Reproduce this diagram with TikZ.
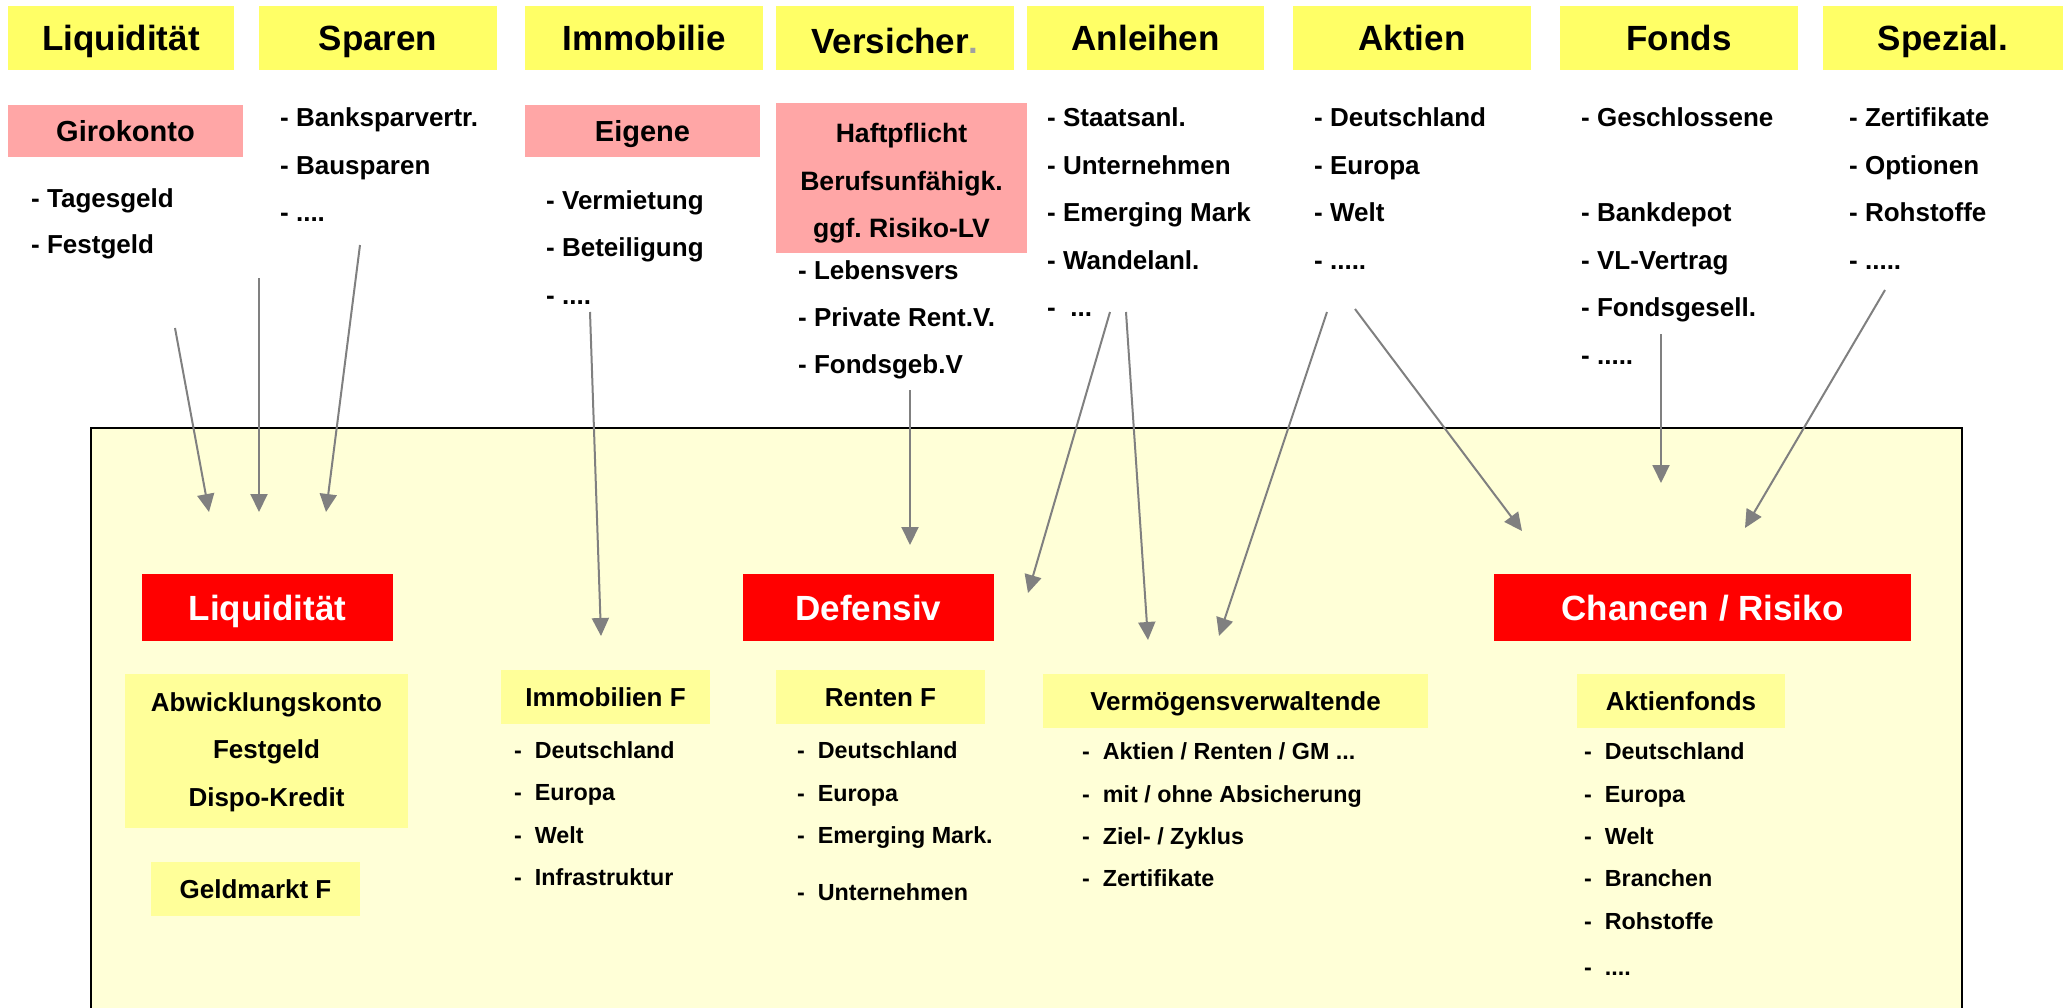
\documentclass[tikz,border=0pt]{standalone}
\usepackage{fontspec}
\setmainfont{Liberation Sans}
\frenchspacing
\usetikzlibrary{arrows.meta}
\definecolor{kopfgelb}{HTML}{FFFF66}
\definecolor{rosafarbe}{HTML}{FFA6A6}
\definecolor{hellgelb}{HTML}{FFFF99}
\definecolor{grundgelb}{HTML}{FFFFD7}
\definecolor{pfeilgrau}{HTML}{808080}
\definecolor{punktgrau}{HTML}{A0A0A0}
\tikzset{%
    kopf/.style={fill=kopfgelb,inner sep=0pt,minimum width=238pt,minimum height=64pt,text height=25pt,text depth=0pt,font=\fontsize{35}{42}\selectfont\bfseries},
    rosa/.style={fill=rosafarbe,inner sep=0pt,minimum width=235pt,minimum height=52pt,text height=20.8pt,text depth=0pt,font=\fontsize{29}{35}\selectfont\bfseries},
    rosablock/.style={fill=rosafarbe,inner sep=0pt,align=center,font=\fontsize{26.6}{47.5}\selectfont\bfseries},
    rotbox/.style={fill=red,text=white,inner sep=0pt,minimum width=251pt,minimum height=67pt,text height=25pt,text depth=0pt,font=\fontsize{35}{42}\selectfont\bfseries},
    fonds/.style={fill=hellgelb,inner sep=0pt,minimum width=209pt,minimum height=54pt,text height=18.6pt,text depth=0pt,font=\fontsize{26}{31}\selectfont\bfseries},
    fondsblock/.style={fill=hellgelb,inner sep=0pt,align=center,font=\fontsize{26}{47.5}\selectfont\bfseries},
    posten/.style={anchor=base west,inner sep=0pt,font=\fontsize{26}{31}\selectfont\bfseries},
    unter/.style={anchor=base west,inner sep=0pt,font=\fontsize{23.3}{28}\selectfont\bfseries},
    pfeil/.style={draw=pfeilgrau,line width=2pt,-{Triangle[length=18pt,width=17pt]}}
}
\begin{document}
\begin{tikzpicture}[x=1pt,y=-1pt]
    \useasboundingbox (0,0) rectangle (2067,1007);
    \clip (0,0) rectangle (2067,1007);
    \draw[line width=2pt,fill=grundgelb] (91,428) rectangle (1962,1040);

    \node[kopf,minimum width=226pt] (kliq) at (121,38) {Liquidität};
    \node[kopf] (kspa) at (378,38) {Sparen};
    \node[kopf] (kimm) at (644,38) {Immobilie};
    \node[kopf] (kver) at (895,38) {\raisebox{-2.5pt}{Versicher\textcolor{punktgrau}{.}}};
    \node[kopf,minimum width=237pt] (kanl) at (1145.5,38) {Anleihen};
    \node[kopf] (kakt) at (1412,38) {Aktien};
    \node[kopf] (kfon) at (1679,38) {Fonds};
    \node[kopf,minimum width=240pt] (kspe) at (1943,38) {Spezial.};

    \node[rosa] (giro) at (125.5,131) {Girokonto};
    \node[rosa] (eigen) at (642.5,131) {Eigene};
    \node[rosablock,minimum width=251pt,minimum height=150pt] (haft) at (901.5,178) {\rule{0pt}{30pt}Haftpflicht\\Berufsunfähigk.\\ggf. Risiko-LV};

    \node[posten] (tag) at (31,207) {- Tagesgeld};
    \node[posten] (fest) at (31,253) {- Festgeld};
    \node[posten] (bspv) at (280,126) {- Banksparvertr.};
    \node[posten] (baus) at (280,174) {- Bausparen};
    \node[posten] (spx) at (280,221) {- ....};
    \node[posten] (vmt) at (546,209) {- Vermietung};
    \node[posten] (bet) at (546,256) {- Beteiligung};
    \node[posten] (imx) at (546,304) {- ....};
    \node[posten] (leb) at (798,279) {- Lebensvers};
    \node[posten] (prv) at (798,326) {- Private Rent.V.};
    \node[posten] (fgv) at (798,373) {- Fondsgeb.V};
    \node[posten] (staat) at (1047,126) {- Staatsanl.};
    \node[posten] (unt) at (1047,174) {- Unternehmen};
    \node[posten] (emm) at (1047,221) {- Emerging Mark};
    \node[posten] (wand) at (1047,269) {- Wandelanl.};
    \node[posten] (anx) at (1047,316) {-\ \ ...};
    \node[posten] (ade) at (1314,126) {- Deutschland};
    \node[posten] (aeu) at (1314,174) {- Europa};
    \node[posten] (awe) at (1314,221) {- Welt};
    \node[posten] (akx) at (1314,269) {- .....};
    \node[posten] (gesch) at (1581,126) {- Geschlossene};
    \node[posten] (bdep) at (1581,221) {- Bankdepot};
    \node[posten] (vlv) at (1581,269) {- VL-Vertrag};
    \node[posten] (fges) at (1581,316) {- Fondsgesell.};
    \node[posten] (fox) at (1581,364) {- .....};
    \node[posten] (zert) at (1849,126) {- Zertifikate};
    \node[posten] (opt) at (1849,174) {- Optionen};
    \node[posten] (roh) at (1849,221) {- Rohstoffe};
    \node[posten] (spzx) at (1849,269) {- .....};

    \node[rotbox] (rliq) at (267.5,607.5) {Liquidität};
    \node[rotbox] (rdef) at (868.5,607.5) {Defensiv};
    \node[rotbox,minimum width=417pt] (rcha) at (1702.5,607.5) {Chancen / Risiko};

    \node[fondsblock,minimum width=283pt,minimum height=154pt] (abw) at (266.5,751) {\rule{0pt}{21pt}Abwicklungskonto\\Festgeld\\Dispo-Kredit};
    \node[fonds] (geld) at (255.5,889) {Geldmarkt F};
    \node[fonds] (immf) at (605.5,697) {Immobilien F};
    \node[fonds] (renf) at (880.5,697) {Renten F};
    \node[fonds,minimum width=385pt] (vvf) at (1235.5,701) {Vermögensverwaltende};
    \node[fonds,minimum width=208pt] (aktf) at (1681,701) {Aktienfonds};

    \node[unter] (ide) at (514,758) {-~~Deutschland};
    \node[unter] (ieu) at (514,800) {-~~Europa};
    \node[unter] (iwe) at (514,843) {-~~Welt};
    \node[unter] (iinf) at (514,885) {-~~Infrastruktur};
    \node[unter] (rde) at (797,758) {-~~Deutschland};
    \node[unter] (reu) at (797,801) {-~~Europa};
    \node[unter] (rem) at (797,843) {-~~Emerging Mark.};
    \node[unter] (run) at (797,900) {-~~Unternehmen};
    \node[unter] (vakt) at (1082,759) {-~~Aktien / Renten / GM ...};
    \node[unter] (vmit) at (1082,802) {-~~mit / ohne Absicherung};
    \node[unter] (vziel) at (1082,844) {-~~Ziel- / Zyklus};
    \node[unter] (vzert) at (1082,886) {-~~Zertifikate};
    \node[unter] (fde) at (1584,759) {-~~Deutschland};
    \node[unter] (feu) at (1584,802) {-~~Europa};
    \node[unter] (fwe) at (1584,844) {-~~Welt};
    \node[unter] (fbr) at (1584,886) {-~~Branchen};
    \node[unter] (fro) at (1584,929) {-~~Rohstoffe};
    \node[unter] (fx) at (1584,975) {-~~....};

    % Pfeile
    \coordinate (s1) at (175,328);  \coordinate (e1) at (209,512);
    \coordinate (s2) at (259,278);  \coordinate (e2) at (259,512);
    \coordinate (s3) at (360,245);  \coordinate (e3) at (326,512);
    \coordinate (s4) at (590,312);  \coordinate (e4) at (601,636);
    \coordinate (s5) at (910,390);  \coordinate (e5) at (910,545);
    \coordinate (s6) at (1110,312); \coordinate (e6) at (1028,593);
    \coordinate (s7) at (1126,312); \coordinate (e7) at (1148,640);
    \coordinate (s8) at (1327,312); \coordinate (e8) at (1219,636);
    \coordinate (s9) at (1355,309); \coordinate (e9) at (1522,531);
    \coordinate (s10) at (1661,334); \coordinate (e10) at (1661,483);
    \coordinate (s11) at (1885,290); \coordinate (e11) at (1745,528);
    \draw[pfeil] (s1) -- (e1);
    \draw[pfeil] (s2) -- (e2);
    \draw[pfeil] (s3) -- (e3);
    \draw[pfeil] (s4) -- (e4);
    \draw[pfeil] (s5) -- (e5);
    \draw[pfeil] (s6) -- (e6);
    \draw[pfeil] (s7) -- (e7);
    \draw[pfeil] (s8) -- (e8);
    \draw[pfeil] (s9) -- (e9);
    \draw[pfeil] (s10) -- (e10);
    \draw[pfeil] (s11) -- (e11);
\end{tikzpicture}
\end{document}
